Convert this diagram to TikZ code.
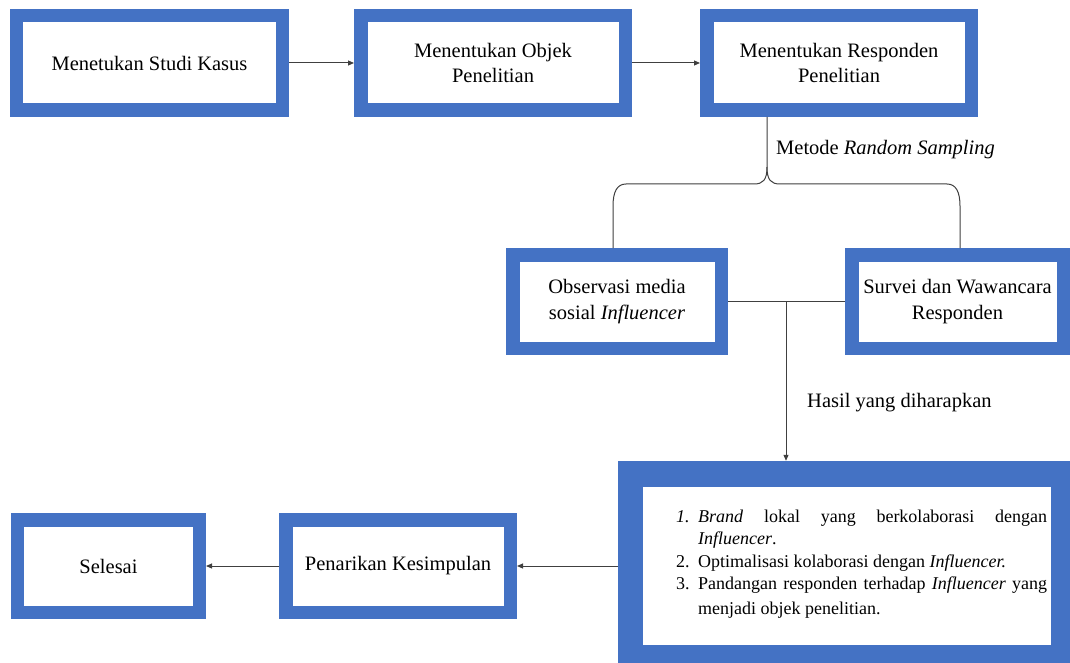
\documentclass[tikz,border=0pt]{standalone}
\usepackage{fontspec}
\setmainfont{Liberation Serif}
\usetikzlibrary{arrows.meta}
\definecolor{boxblue}{HTML}{4472C4}
\definecolor{linegray}{HTML}{404040}
\begin{document}
\begin{tikzpicture}[x=1bp,y=-1bp,
  box/.style={draw=boxblue, line width=13.5bp, fill=white, align=center, inner sep=0pt,
              font=\fontsize{20.5bp}{25.5bp}\selectfont},
  conn/.style={draw=linegray, line width=1bp},
  arr/.style={conn, -{Triangle[length=6bp,width=5bp]}},
  lbl/.style={inner sep=0pt, anchor=base west, font=\fontsize{20.5bp}{25.5bp}\selectfont}]
\useasboundingbox[fill=white] (0,0) rectangle (1070,663);

% boxes
\node[box, minimum width=265.5bp, minimum height=94.5bp] (b1) at (149.5,63) {Menetukan Studi Kasus};
\node[box, minimum width=264.5bp, minimum height=94.5bp] (b2) at (493,63) {Menentukan Objek\\Penelitian};
\node[box, minimum width=264.5bp, minimum height=94.5bp] (b3) at (839,63) {Menentukan Responden\\Penelitian};
\node[box, minimum width=208.5bp, minimum height=93.5bp] (obs) at (617,301.5) {Observasi media\\sosial \textit{Influencer}};
\node[box, minimum width=211.5bp, minimum height=93.5bp] (surv) at (957.5,301.5) {Survei dan Wawancara\\Responden};
\node[box, minimum width=224.5bp, minimum height=92.5bp] (pen) at (398,566) {Penarikan Kesimpulan};
\node[box, minimum width=181.5bp, minimum height=92.5bp] (sel) at (108.5,566) {Selesai};

% big result box
\node[fill=boxblue, inner sep=0pt, minimum width=452bp, minimum height=202bp] (big) at (844,562) {};
\fill[white] (643,487) rectangle (1051,645);
\node[inner sep=0pt, anchor=base west] (list) at (676,522) {\parbox[t]{371bp}{\setlength{\parindent}{0pt}\fontsize{18bp}{22.5bp}\selectfont
\makebox[22bp][l]{\textit{1.}}\makebox[349bp][s]{\textit{Brand} lokal yang berkolaborasi dengan}\\
\hspace*{22bp}\textit{Influencer}.\\
\makebox[22bp][l]{2.}Optimalisasi kolaborasi dengan \textit{Influencer.}\\
\makebox[22bp][l]{3.}\makebox[349bp][s]{Pandangan responden terhadap \textit{Influencer} yang}\\[2.5bp]
\hspace*{22bp}menjadi objek penelitian.}};

% connectors
\draw[arr] (b1.east) -- (b2.west);
\draw[arr] (b2.east) -- (b3.west);

\path (b3.south west) ++(67,0) coordinate (bt);
\coordinate (bl) at (613,184);
\coordinate (br) at (960,184);
\draw[conn] (bt) -- (767,167) .. controls (767,180) and (763,184) .. (754,184) -- (626,184)
  .. controls (617,184) and (613,192) .. (613,206) -- (bl |- obs.north);
\draw[conn] (767,167) .. controls (767,180) and (771,184) .. (780,184) -- (947,184)
  .. controls (956,184) and (960,192) .. (960,206) -- (br |- surv.north);
\node[lbl] (ms) at (776,155) {Metode \textit{Random Sampling}};

\draw[conn] (obs.east) -- (surv.west);
\coordinate (j) at (786,301.5);
\draw[arr] (j) -- (j |- big.north);
\node[lbl] (hasil) at (807,407) {Hasil yang diharapkan};

\draw[arr] (big.west |- pen.east) -- (pen.east);
\draw[arr] (pen.west) -- (sel.east);
\end{tikzpicture}
\end{document}
